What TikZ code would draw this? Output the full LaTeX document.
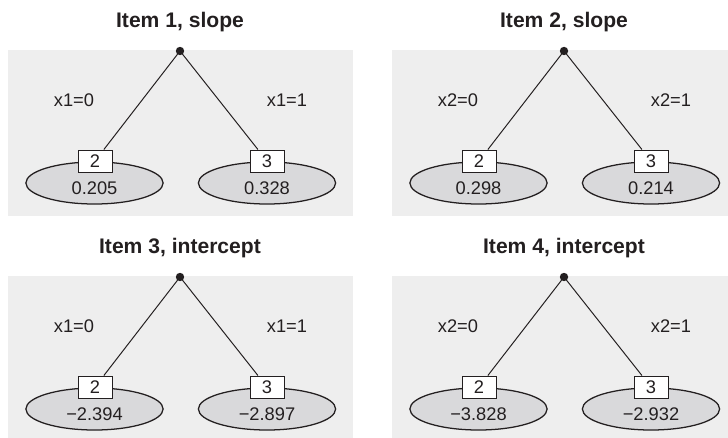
\documentclass[tikz,border=0pt]{standalone}
\usepackage{fontspec}
\setmainfont{Liberation Sans}
\usepackage{tikz}
\usetikzlibrary{positioning,shapes.geometric}
\definecolor{ink}{RGB}{35,31,32}
\definecolor{panelgray}{RGB}{238,238,238}
\definecolor{leafgray}{RGB}{217,217,219}

\begin{document}
\begin{tikzpicture}[x=0.025cm,y=-0.025cm,color=ink,
    ttl/.style={font=\bfseries\fontsize{15}{18}\selectfont},
    lbl/.style={font=\fontsize{13}{15}\selectfont},
    leaf/.style={ellipse,draw,fill=leafgray,line width=0.9pt,minimum width=3.43cm,minimum height=1.05cm,inner sep=0pt},
    numbox/.style={draw,fill=white,line width=0.7pt,minimum width=0.85cm,minimum height=0.55cm,inner sep=0pt,font=\fontsize{13}{15}\selectfont}]
  \useasboundingbox (0,0) rectangle (728,438);
  \foreach \px/\py/\ttl/\var/\lval/\rval in {0/0/{Item 1, slope}/x1/0.205/0.328,
      384/0/{Item 2, slope}/x2/0.298/0.214,
      0/226/{Item 3, intercept}/x1/−2.394/−2.897,
      384/226/{Item 4, intercept}/x2/−3.828/−2.932}{
    \begin{scope}[shift={(\px,\py)}]
      \fill[panelgray] (8,50) rectangle (353,216);
      \node[ttl] (head) at (180,22) {\ttl};
      \coordinate (root) at (180,51);
      % leaves
      \node[leaf] (el) at (94.5,183) {};
      \node[leaf] (er) at (267,183) {};
      \node[lbl] (vl) at ([yshift=-0.14cm]el.center) {\lval};
      \node[lbl] (vr) at ([yshift=-0.14cm]er.center) {\rval};
      \node[numbox] (bl) at (95,161) {2};
      \node[numbox] (br) at (267,161) {3};
      \draw[line width=0.7pt] (root) -- (bl);
      \draw[line width=0.7pt] (root) -- (br);
      \fill (root) circle (0.105cm);
      \node[lbl] (cl) at (74,100) {\var=0};
      \node[lbl] (cr) at (287,100) {\var=1};
    \end{scope}}
\end{tikzpicture}
\end{document}
